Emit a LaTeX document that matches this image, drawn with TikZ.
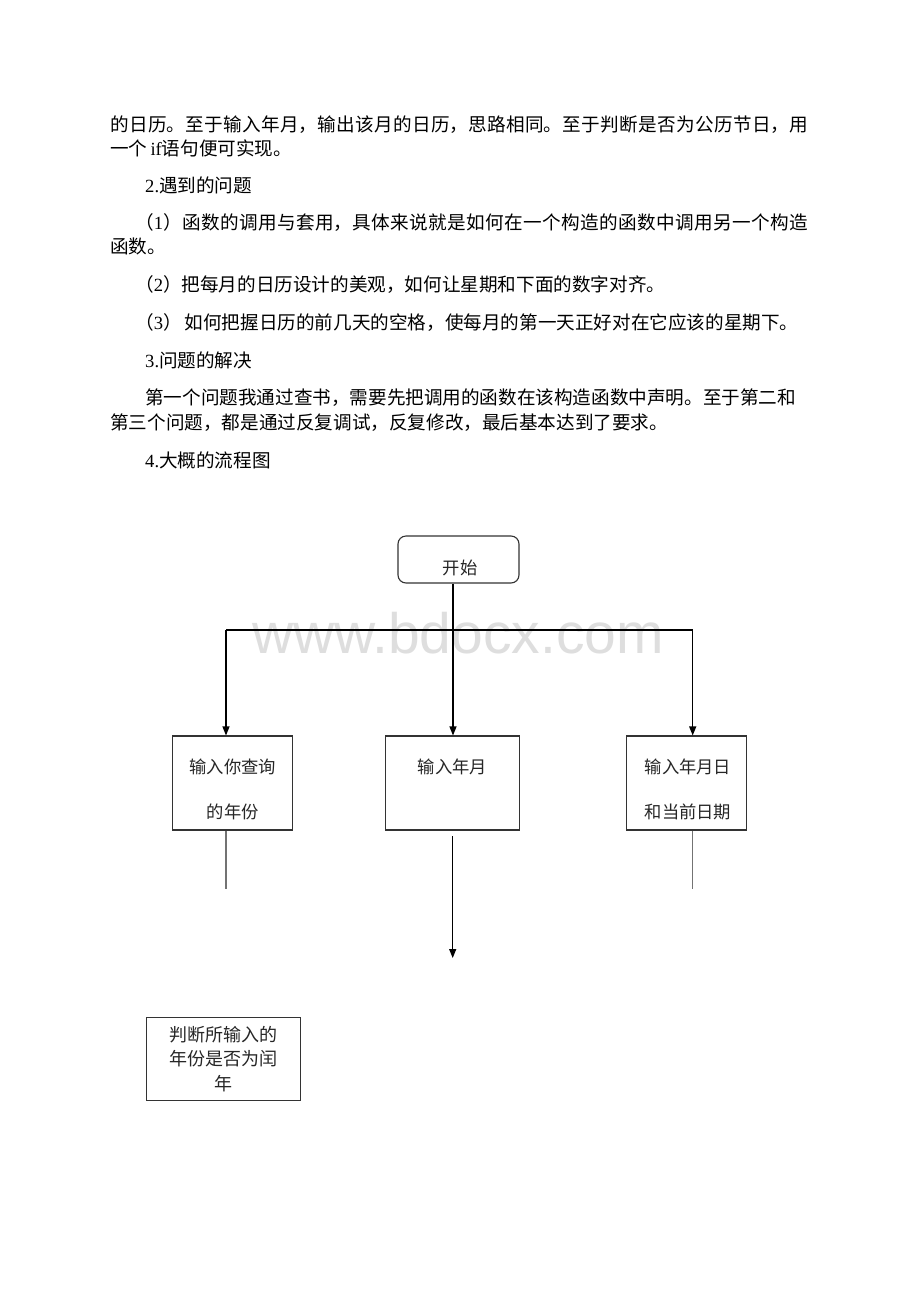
\documentclass[tikz,border=0pt]{standalone}
\usepackage{fontspec}
\setmainfont{Liberation Serif}
\newfontfamily\cjk{Noto Sans CJK SC}
\newfontfamily\wmfont{Liberation Sans}
\usetikzlibrary{arrows.meta}
\XeTeXlinebreaklocale "zh"
\XeTeXlinebreakskip=0pt plus 2pt

\begin{document}
\begin{tikzpicture}[x=1pt,y=-1pt,
    body/.style={anchor=base west,inner sep=0pt,font=\fontsize{18.6}{22}\selectfont\cjk},
    box/.style={draw=black!80,line width=1.1pt,inner sep=0pt},
    flow/.style={anchor=base,inner sep=0pt,text=black!85,font=\fontsize{17.3}{24}\selectfont\cjk},
    line/.style={line width=1.2pt},
    stub/.style={draw=black!55,line width=1.2pt},
    arr/.style={-{Triangle[length=9pt,width=7pt]}}]
  \fill[white] (0,0) rectangle (920,1302);
  \useasboundingbox (0,0) rectangle (920,1302);

  % watermark
  \node[anchor=base,inner sep=0pt,text=black!13,font=\fontsize{57}{57}\selectfont\wmfont] (wm) at (458,653) {www.bdocx.com};

  % text above the chart
  \node[body] (l1) at (110,131) {\parbox[t]{698pt}{\parfillskip=0pt 的日历。至于输入年月，输出该月的日历，思路相同。至于判断是否为公历节日，用}};
  \node[body] (l2) at (110,155) {一个\,{\rmfamily if}语句便可实现。};
  \node[body] (l3) at (145,192) {{\rmfamily 2.}遇到的问题};
  \node[body] (l4) at (135,229) {\parbox[t]{673pt}{\parfillskip=0pt （{\rmfamily 1}）函数的调用与套用，具体来说就是如何在一个构造的函数中调用另一个构造}};
  \node[body] (l5) at (110,253) {函数。};
  \node[body] (l6) at (135,291) {（{\rmfamily 2}）把每月的日历设计的美观，如何让星期和下面的数字对齐。};
  \node[body] (l7) at (135,329) {（{\rmfamily 3}）\,如何把握日历的前几天的空格，使每月的第一天正好对在它应该的星期下。};
  \node[body] (l8) at (145,367) {{\rmfamily 3.}问题的解决};
  \node[body] (l9) at (145,404) {第一个问题我通过查书，需要先把调用的函数在该构造函数中声明。至于第二和};
  \node[body] (l10) at (110,429) {第三个问题，都是通过反复调试，反复修改，最后基本达到了要求。};
  \node[body] (l11) at (145,467) {{\rmfamily 4.}大概的流程图};

  % chart
  \node[box,rounded corners=8pt,minimum width=121pt,minimum height=47pt] (start) at (458.5,559.5) {};
  \node[flow] (startt) at (460,574.5) {开始};

  \node[box,minimum width=120pt,minimum height=94pt] (in1) at (232.7,783) {};
  \node[box,minimum width=133.3pt,minimum height=94pt] (in2) at (452.4,783) {};
  \node[box,minimum width=120.7pt,minimum height=94pt] (in3) at (686.4,783) {};
  \node[flow] (t1a) at (232.7,773.5) {输入你查询};
  \node[flow] (t1b) at (232.7,818.5) {的年份};
  \node[flow] (t2a) at (452.4,773.5) {输入年月};
  \node[flow] (t3a) at (688,773.5) {输入年月日};
  \node[flow] (t3b) at (688,818.5) {和当前日期};

  \node[box,minimum width=154pt,minimum height=83pt,align=center,text=black!85,
    font=\fontsize{18}{24.5}\selectfont\cjk] (leap) at (223.7,1059) {判断所输入的\\年份是否为闰\\年};

  \coordinate (j) at (453,630);
  \coordinate (jl) at (226,630);
  \coordinate (jr) at (692.7,630);
  \coordinate (e1) at (226,889);
  \coordinate (e3) at (692.7,889);
  \coordinate (m0) at (452.7,836);
  \coordinate (m1) at (452.7,958);

  \draw[line] (start.south -| j) -- (j);
  \draw[line] (jl) -- (jr);
  \draw[line,arr] (jl) -- (in1.north -| jl);
  \draw[line,arr] (j) -- (in2.north -| j);
  \draw[line,arr] (jr) -- (in3.north -| jr);
  \draw[stub] (in1.south -| e1) -- (e1);
  \draw[stub] (in3.south -| e3) -- (e3);
  \draw[line,arr] (m0) -- (m1);
\end{tikzpicture}
\end{document}
